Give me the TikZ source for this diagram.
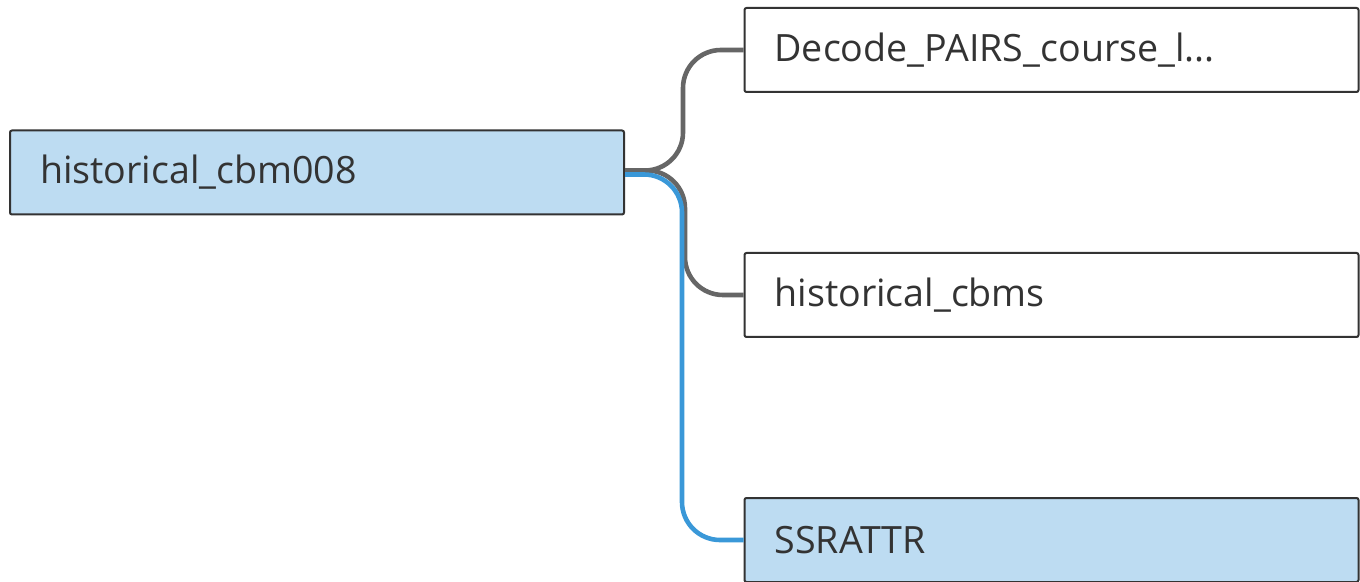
\documentclass[tikz,border=0pt]{standalone}
\usepackage{fontspec}
\setmainfont{Open Sans}
\usetikzlibrary{positioning}

\definecolor{tabblue}{HTML}{BDDCF2}
\definecolor{tabedge}{HTML}{333333}
\definecolor{tablink}{HTML}{666666}
\definecolor{tabsel}{HTML}{3A98D8}

\begin{document}
\begin{tikzpicture}[x=0.5pt,y=-0.5pt,node distance=122.5pt,on grid,
    table/.style={draw=tabedge,line width=1pt,fill=white,rounded corners=1pt,
      minimum width=307pt,minimum height=42pt,text width=277pt,align=left,
      inner xsep=15pt,text=tabedge,font=\fontsize{18.8}{22}\selectfont},
    picked/.style={table,fill=tabblue},
    graylink/.style={draw=tablink,line width=2.3pt,rounded corners=19pt},
    bluelink/.style={draw=tabsel,line width=2.3pt,rounded corners=19pt}]
      \useasboundingbox (0,0) rectangle (1360,582);
      \node[picked] (cbm008) at (317,172.5)   {historical\_cbm008};
      \node[table]  (decode) at (1051.5,50)   {Decode\_PAIRS\_course\_l...};
      \node[table]  (cbms)   [below=of decode] {historical\_cbms};
      \node[picked] (ssr)    [below=of cbms]   {SSRATTR};

      \draw[graylink] ([yshift=1pt]cbm008.east) -- ++(58,0) |- (decode.west);
      \draw[graylink] ([yshift=1pt]cbm008.east) -- ++(60,0) |- (cbms.west);
      \draw[bluelink] ([yshift=-1pt]cbm008.east) -- ++(57,0) |- (ssr.west);
    \end{tikzpicture}
\end{document}
